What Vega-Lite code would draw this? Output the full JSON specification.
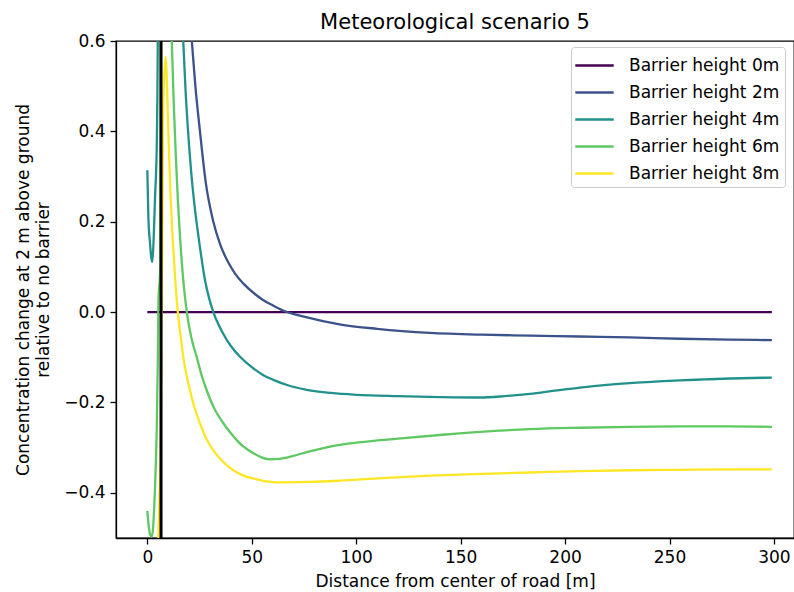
{
  "$schema": "https://vega.github.io/schema/vega-lite/v6.json",
  "autosize": {"type": "none"},
  "width": 678,
  "height": 497,
  "padding": {"left": 116, "top": 41, "right": 0, "bottom": 54},
  "background": "white",
  "config": {
    "font": "DejaVu Sans",
    "view": {"stroke": "black", "strokeWidth": 1.3},
    "axis": {
      "grid": false,
      "domainColor": "black",
      "domainWidth": 1.3,
      "tickColor": "black",
      "tickWidth": 1.3,
      "tickSize": 6,
      "labelPadding": 5,
      "labelFontSize": 17,
      "labelColor": "black",
      "titleFontSize": 17,
      "titleFontWeight": "normal",
      "titleColor": "black",
      "labelFont": "DejaVu Sans",
      "titleFont": "DejaVu Sans"
    },
    "title": {"font": "DejaVu Sans", "fontSize": 21, "fontWeight": "normal", "color": "black", "offset": -1}
  },
  "title": {"text": "Meteorological scenario 5"},
  "layer": [
    {
      "data": {
        "values": [
          {"series": "Barrier height 0m", "distance": 0, "change": 0},
          {"series": "Barrier height 0m", "distance": 299, "change": 0},
          {"series": "Barrier height 2m", "distance": 18.5, "change": 0.8},
          {"series": "Barrier height 2m", "distance": 20, "change": 0.69},
          {"series": "Barrier height 2m", "distance": 21.3, "change": 0.6},
          {"series": "Barrier height 2m", "distance": 23, "change": 0.5},
          {"series": "Barrier height 2m", "distance": 25.2, "change": 0.4},
          {"series": "Barrier height 2m", "distance": 28, "change": 0.286},
          {"series": "Barrier height 2m", "distance": 31.6, "change": 0.2},
          {"series": "Barrier height 2m", "distance": 35, "change": 0.148},
          {"series": "Barrier height 2m", "distance": 39.6, "change": 0.103},
          {"series": "Barrier height 2m", "distance": 42, "change": 0.085},
          {"series": "Barrier height 2m", "distance": 46, "change": 0.063},
          {"series": "Barrier height 2m", "distance": 51.5, "change": 0.04},
          {"series": "Barrier height 2m", "distance": 55, "change": 0.028},
          {"series": "Barrier height 2m", "distance": 60, "change": 0.015},
          {"series": "Barrier height 2m", "distance": 65.2, "change": 0.003},
          {"series": "Barrier height 2m", "distance": 75, "change": -0.01},
          {"series": "Barrier height 2m", "distance": 92, "change": -0.027},
          {"series": "Barrier height 2m", "distance": 110, "change": -0.037},
          {"series": "Barrier height 2m", "distance": 135.3, "change": -0.046},
          {"series": "Barrier height 2m", "distance": 160, "change": -0.05},
          {"series": "Barrier height 2m", "distance": 183.2, "change": -0.052},
          {"series": "Barrier height 2m", "distance": 207, "change": -0.054},
          {"series": "Barrier height 2m", "distance": 231, "change": -0.056},
          {"series": "Barrier height 2m", "distance": 255, "change": -0.059},
          {"series": "Barrier height 2m", "distance": 278.9, "change": -0.061},
          {"series": "Barrier height 2m", "distance": 299, "change": -0.062},
          {"series": "Barrier height 4m", "distance": 0, "change": 0.314},
          {"series": "Barrier height 4m", "distance": 0.5, "change": 0.21},
          {"series": "Barrier height 4m", "distance": 1.3, "change": 0.152},
          {"series": "Barrier height 4m", "distance": 1.9, "change": 0.12},
          {"series": "Barrier height 4m", "distance": 2.4, "change": 0.111},
          {"series": "Barrier height 4m", "distance": 3.0, "change": 0.16},
          {"series": "Barrier height 4m", "distance": 3.7, "change": 0.255},
          {"series": "Barrier height 4m", "distance": 4.5, "change": 0.366},
          {"series": "Barrier height 4m", "distance": 4.8, "change": 0.47},
          {"series": "Barrier height 4m", "distance": 5.0, "change": 0.6},
          {"series": "Barrier height 4m", "distance": 5.4, "change": 0.9},
          {"series": "Barrier height 4m", "distance": 6.5, "change": 1.6},
          {"series": "Barrier height 4m", "distance": 16.2, "change": 0.7},
          {"series": "Barrier height 4m", "distance": 17.2, "change": 0.6},
          {"series": "Barrier height 4m", "distance": 18.2, "change": 0.5},
          {"series": "Barrier height 4m", "distance": 19.5, "change": 0.4},
          {"series": "Barrier height 4m", "distance": 21, "change": 0.31},
          {"series": "Barrier height 4m", "distance": 23, "change": 0.22},
          {"series": "Barrier height 4m", "distance": 25, "change": 0.15},
          {"series": "Barrier height 4m", "distance": 27.6, "change": 0.071},
          {"series": "Barrier height 4m", "distance": 29.5, "change": 0.032},
          {"series": "Barrier height 4m", "distance": 31.6, "change": 0.0},
          {"series": "Barrier height 4m", "distance": 36, "change": -0.045},
          {"series": "Barrier height 4m", "distance": 40, "change": -0.075},
          {"series": "Barrier height 4m", "distance": 44.4, "change": -0.099},
          {"series": "Barrier height 4m", "distance": 50, "change": -0.122},
          {"series": "Barrier height 4m", "distance": 55, "change": -0.138},
          {"series": "Barrier height 4m", "distance": 60.3, "change": -0.15},
          {"series": "Barrier height 4m", "distance": 68, "change": -0.163},
          {"series": "Barrier height 4m", "distance": 76.3, "change": -0.172},
          {"series": "Barrier height 4m", "distance": 88, "change": -0.179},
          {"series": "Barrier height 4m", "distance": 100, "change": -0.183},
          {"series": "Barrier height 4m", "distance": 120, "change": -0.186},
          {"series": "Barrier height 4m", "distance": 140, "change": -0.188},
          {"series": "Barrier height 4m", "distance": 159.3, "change": -0.189},
          {"series": "Barrier height 4m", "distance": 171, "change": -0.186},
          {"series": "Barrier height 4m", "distance": 183.2, "change": -0.181},
          {"series": "Barrier height 4m", "distance": 195, "change": -0.174},
          {"series": "Barrier height 4m", "distance": 207.2, "change": -0.167},
          {"series": "Barrier height 4m", "distance": 220, "change": -0.161},
          {"series": "Barrier height 4m", "distance": 231, "change": -0.157},
          {"series": "Barrier height 4m", "distance": 243, "change": -0.154},
          {"series": "Barrier height 4m", "distance": 255, "change": -0.151},
          {"series": "Barrier height 4m", "distance": 267, "change": -0.149},
          {"series": "Barrier height 4m", "distance": 278.9, "change": -0.147},
          {"series": "Barrier height 4m", "distance": 299, "change": -0.145},
          {"series": "Barrier height 6m", "distance": 0, "change": -0.44},
          {"series": "Barrier height 6m", "distance": 0.7, "change": -0.475},
          {"series": "Barrier height 6m", "distance": 1.4, "change": -0.493},
          {"series": "Barrier height 6m", "distance": 2.1, "change": -0.497},
          {"series": "Barrier height 6m", "distance": 2.8, "change": -0.475},
          {"series": "Barrier height 6m", "distance": 3.2, "change": -0.44},
          {"series": "Barrier height 6m", "distance": 3.7, "change": -0.387},
          {"series": "Barrier height 6m", "distance": 4.1, "change": -0.33},
          {"series": "Barrier height 6m", "distance": 4.5, "change": -0.26},
          {"series": "Barrier height 6m", "distance": 5.0, "change": -0.114},
          {"series": "Barrier height 6m", "distance": 5.3, "change": 0.02},
          {"series": "Barrier height 6m", "distance": 6.2, "change": 0.1},
          {"series": "Barrier height 6m", "distance": 6.6, "change": 1.6},
          {"series": "Barrier height 6m", "distance": 11.7, "change": 0.6},
          {"series": "Barrier height 6m", "distance": 12.6, "change": 0.47},
          {"series": "Barrier height 6m", "distance": 13.6, "change": 0.35},
          {"series": "Barrier height 6m", "distance": 14.6, "change": 0.25},
          {"series": "Barrier height 6m", "distance": 15.6, "change": 0.17},
          {"series": "Barrier height 6m", "distance": 16.5, "change": 0.11},
          {"series": "Barrier height 6m", "distance": 17.2, "change": 0.071},
          {"series": "Barrier height 6m", "distance": 18.0, "change": 0.035},
          {"series": "Barrier height 6m", "distance": 18.9, "change": 0.0},
          {"series": "Barrier height 6m", "distance": 21, "change": -0.055},
          {"series": "Barrier height 6m", "distance": 23.6, "change": -0.099},
          {"series": "Barrier height 6m", "distance": 26, "change": -0.14},
          {"series": "Barrier height 6m", "distance": 28.4, "change": -0.173},
          {"series": "Barrier height 6m", "distance": 32, "change": -0.213},
          {"series": "Barrier height 6m", "distance": 36.4, "change": -0.246},
          {"series": "Barrier height 6m", "distance": 40, "change": -0.268},
          {"series": "Barrier height 6m", "distance": 44.4, "change": -0.291},
          {"series": "Barrier height 6m", "distance": 50, "change": -0.31},
          {"series": "Barrier height 6m", "distance": 55, "change": -0.322},
          {"series": "Barrier height 6m", "distance": 58.7, "change": -0.326},
          {"series": "Barrier height 6m", "distance": 63, "change": -0.325},
          {"series": "Barrier height 6m", "distance": 70, "change": -0.318},
          {"series": "Barrier height 6m", "distance": 76.3, "change": -0.31},
          {"series": "Barrier height 6m", "distance": 88, "change": -0.297},
          {"series": "Barrier height 6m", "distance": 100, "change": -0.289},
          {"series": "Barrier height 6m", "distance": 120, "change": -0.28},
          {"series": "Barrier height 6m", "distance": 140, "change": -0.272},
          {"series": "Barrier height 6m", "distance": 159.3, "change": -0.265},
          {"series": "Barrier height 6m", "distance": 183.2, "change": -0.259},
          {"series": "Barrier height 6m", "distance": 207.2, "change": -0.256},
          {"series": "Barrier height 6m", "distance": 231, "change": -0.254},
          {"series": "Barrier height 6m", "distance": 255, "change": -0.253},
          {"series": "Barrier height 6m", "distance": 278.9, "change": -0.253},
          {"series": "Barrier height 6m", "distance": 299, "change": -0.254},
          {"series": "Barrier height 8m", "distance": 4.9, "change": -0.6},
          {"series": "Barrier height 8m", "distance": 5.3, "change": -0.497},
          {"series": "Barrier height 8m", "distance": 5.8, "change": -0.41},
          {"series": "Barrier height 8m", "distance": 6.4, "change": -0.31},
          {"series": "Barrier height 8m", "distance": 7.6, "change": 0.45},
          {"series": "Barrier height 8m", "distance": 8.2, "change": 0.53},
          {"series": "Barrier height 8m", "distance": 8.8, "change": 0.565},
          {"series": "Barrier height 8m", "distance": 9.3, "change": 0.52},
          {"series": "Barrier height 8m", "distance": 9.8, "change": 0.44},
          {"series": "Barrier height 8m", "distance": 10.4, "change": 0.35},
          {"series": "Barrier height 8m", "distance": 11.0, "change": 0.27},
          {"series": "Barrier height 8m", "distance": 11.8, "change": 0.19},
          {"series": "Barrier height 8m", "distance": 12.7, "change": 0.12},
          {"series": "Barrier height 8m", "distance": 13.6, "change": 0.055},
          {"series": "Barrier height 8m", "distance": 14.6, "change": 0.0},
          {"series": "Barrier height 8m", "distance": 16, "change": -0.055},
          {"series": "Barrier height 8m", "distance": 17.2, "change": -0.099},
          {"series": "Barrier height 8m", "distance": 18.8, "change": -0.14},
          {"series": "Barrier height 8m", "distance": 20.4, "change": -0.173},
          {"series": "Barrier height 8m", "distance": 22.5, "change": -0.21},
          {"series": "Barrier height 8m", "distance": 25.2, "change": -0.246},
          {"series": "Barrier height 8m", "distance": 28, "change": -0.278},
          {"series": "Barrier height 8m", "distance": 31.6, "change": -0.306},
          {"series": "Barrier height 8m", "distance": 36, "change": -0.33},
          {"series": "Barrier height 8m", "distance": 41.2, "change": -0.35},
          {"series": "Barrier height 8m", "distance": 46, "change": -0.362},
          {"series": "Barrier height 8m", "distance": 52.4, "change": -0.37},
          {"series": "Barrier height 8m", "distance": 58, "change": -0.375},
          {"series": "Barrier height 8m", "distance": 65.1, "change": -0.377},
          {"series": "Barrier height 8m", "distance": 78, "change": -0.376},
          {"series": "Barrier height 8m", "distance": 92.2, "change": -0.373},
          {"series": "Barrier height 8m", "distance": 110, "change": -0.368},
          {"series": "Barrier height 8m", "distance": 135.3, "change": -0.362},
          {"series": "Barrier height 8m", "distance": 160, "change": -0.358},
          {"series": "Barrier height 8m", "distance": 183.2, "change": -0.355},
          {"series": "Barrier height 8m", "distance": 207, "change": -0.352},
          {"series": "Barrier height 8m", "distance": 231, "change": -0.35},
          {"series": "Barrier height 8m", "distance": 255, "change": -0.349},
          {"series": "Barrier height 8m", "distance": 278.9, "change": -0.348},
          {"series": "Barrier height 8m", "distance": 299, "change": -0.348}
        ]
      },
      "mark": {"type": "line", "clip": true, "strokeWidth": 2.3, "interpolate": "monotone"},
      "encoding": {
        "x": {
          "field": "distance",
          "type": "quantitative",
          "scale": {"domain": [-15, 309.6], "nice": false, "zero": false},
          "axis": {"values": [0, 50, 100, 150, 200, 250, 300], "title": "Distance from center of road [m]", "titlePadding": 8}
        },
        "y": {
          "field": "change",
          "type": "quantitative",
          "scale": {"domain": [-0.5, 0.6], "nice": false, "zero": false},
          "axis": {
            "values": [-0.4, -0.2, 0, 0.2, 0.4, 0.6],
            "format": ".1f",
            "title": ["Concentration change at 2 m above ground", "relative to no barrier"],
            "titlePadding": 11,
            "titleLineHeight": 20
          }
        },
        "color": {
          "field": "series",
          "type": "nominal",
          "scale": {
            "domain": ["Barrier height 0m", "Barrier height 2m", "Barrier height 4m", "Barrier height 6m", "Barrier height 8m"],
            "range": ["#440154", "#3b528b", "#21918c", "#5ec962", "#fde725"]
          },
          "legend": {
            "title": null,
            "orient": "none",
            "legendX": 455,
            "legendY": 6,
            "symbolType": "M-1.6,0H1.6",
            "symbolSize": 576,
            "symbolStrokeWidth": 2.5,
            "symbolOffset": 5,
            "labelFontSize": 17,
            "labelFont": "DejaVu Sans",
            "labelColor": "black",
            "labelOffset": 21,
            "rowPadding": 5,
            "padding": 5,
            "strokeColor": "#cccccc",
            "fillColor": "white",
            "cornerRadius": 3
          }
        }
      }
    },
    {
      "data": {"values": [{"barrier_position": 6.56}]},
      "mark": {"type": "rule", "color": "black", "strokeWidth": 3},
      "encoding": {
        "x": {"field": "barrier_position", "type": "quantitative"}
      }
    }
  ]
}
